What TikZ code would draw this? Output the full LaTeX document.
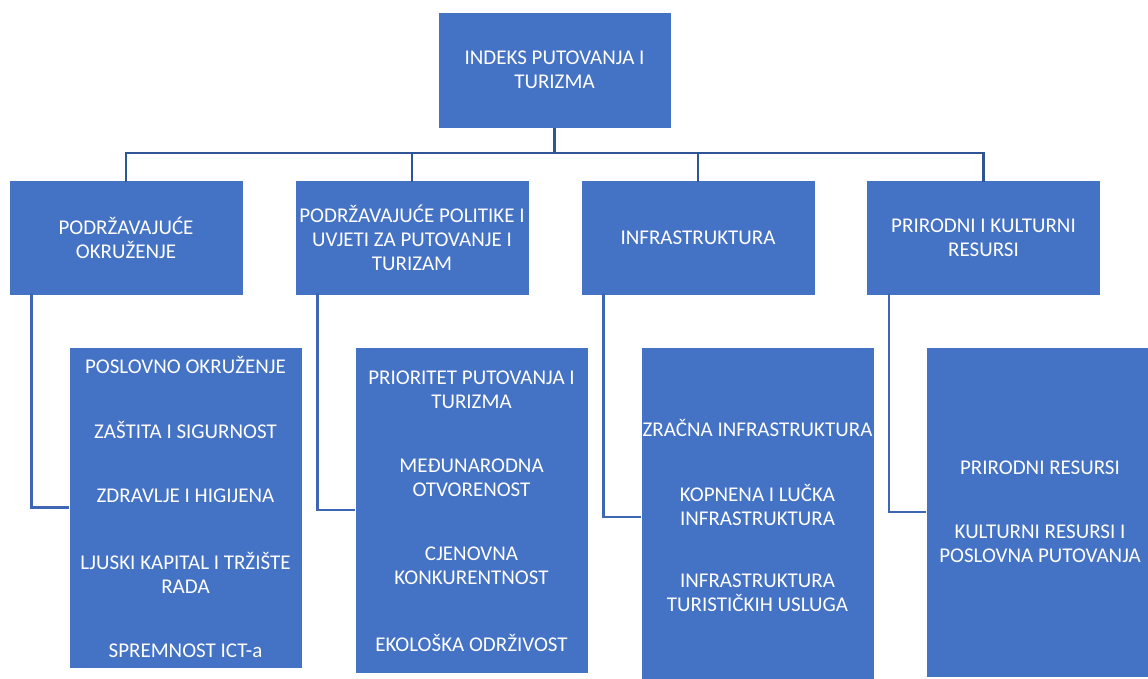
\documentclass[tikz,border=0pt]{standalone}
\usepackage{fontspec}
\setmainfont{Carlito}
\usetikzlibrary{positioning}
\definecolor{boxblue}{HTML}{4472C4}
\definecolor{lineblue}{HTML}{2F5597}
\definecolor{brkblue}{HTML}{3E66B4}

\begin{document}
\begin{tikzpicture}[x=1pt,y=-1pt,
    box/.style={rectangle,fill=boxblue,draw=white,line width=0.8pt,text=white,align=center,
        font=\fontsize{21}{24}\selectfont,inner sep=0pt},
    lbl/.style={text=white,align=center,font=\fontsize{21}{24}\selectfont,inner sep=0pt},
    conn/.style={draw=lineblue,line width=2.6pt},
    brk/.style={draw=brkblue,line width=2.6pt}]
    \useasboundingbox (0,0) rectangle (1148,679);
    \clip (0,0) rectangle (1148,679);

    \node[box,minimum width=233,minimum height=116] (top) at (554.5,70) {INDEKS PUTOVANJA I\\TURIZMA};

    \node[box,minimum width=234,minimum height=115] (l1a) at (126,237.5) {PODRŽAVAJUĆE\\OKRUŽENJE};
    \node[box,minimum width=234,minimum height=115] (l1b) at (412,237.5) {PODRŽAVAJUĆE POLITIKE I\\UVJETI ZA PUTOVANJE I\\TURIZAM};
    \node[box,minimum width=234,minimum height=115] (l1c) at (698,237.5) {INFRASTRUKTURA};
    \node[box,minimum width=234,minimum height=115] (l1d) at (983.5,237.5) {PRIRODNI I KULTURNI\\RESURSI};

    \node[box,minimum width=233,minimum height=321] (l2a) at (185.5,507.5) {};
    \node[box,minimum width=233,minimum height=326] (l2b) at (471.5,510) {};
    \node[box,minimum width=233,minimum height=340] (l2c) at (757.5,517) {};
    \node[box,minimum width=233,minimum height=330] (l2d) at (1042.5,512) {};

    \node[lbl] (a1) at (185.5,365) {POSLOVNO OKRUŽENJE};
    \node[lbl] (a2) at (185.5,430) {ZAŠTITA I SIGURNOST};
    \node[lbl] (a3) at (185.5,496) {ZDRAVLJE I HIGIJENA};
    \node[lbl] (a4) at (185.5,573) {LJUSKI KAPITAL I TRŽIŠTE\\RADA};
    \node[lbl] (a5) at (185.5,651) {SPREMNOST ICT-a};

    \node[lbl] (b1) at (471.5,389.5) {PRIORITET PUTOVANJA I\\TURIZMA};
    \node[lbl] (b2) at (471.5,478) {MEĐUNARODNA\\OTVORENOST};
    \node[lbl] (b3) at (471.5,566) {CJENOVNA\\KONKURENTNOST};
    \node[lbl] (b4) at (471.5,643) {EKOLOŠKA ODRŽIVOST};

    \node[lbl] (c1) at (757.5,428) {ZRAČNA INFRASTRUKTURA};
    \node[lbl] (c2) at (757.5,505) {KOPNENA I LUČKA\\INFRASTRUKTURA};
    \node[lbl] (c3) at (757.5,593) {INFRASTRUKTURA\\TURISTIČKIH USLUGA};

    \node[lbl] (d1) at (1040,468) {PRIRODNI RESURSI};
    \node[lbl] (d2) at (1040,544) {KULTURNI RESURSI I\\POSLOVNA PUTOVANJA};

    \coordinate (bus) at (554.5,153);
    \draw[conn] (top.south) -- (bus);
    \foreach \n in {a,b,c,d} {
        \draw[conn] (bus) -| ([yshift=-2]l1\n.north);
        \draw[brk] ([xshift=23,yshift=2]l1\n.south west) |- (l2\n.west);
    }
\end{tikzpicture}
\end{document}
